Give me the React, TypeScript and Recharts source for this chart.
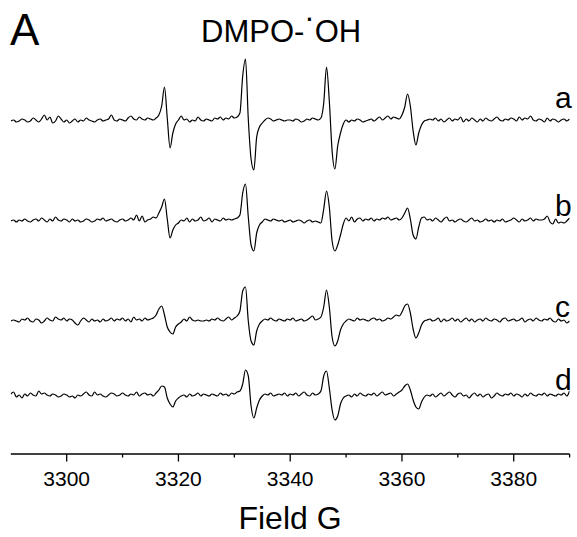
import React from "react";
import { Line, LineChart, XAxis, YAxis } from "recharts";

// sweep: 3290 G to 3390 G, one reading per 0.5 G
const fieldStart = 3290;
const fieldStep = 0.5;

// EPR signal of each sample (up = positive)
const traceA = [
  0, 1, -1, 0, 2, 1, -1, 0, 3, 1,
  -1, 2, 6, 1, 4, -2, 0, 5, 2, -1,
  1, -2, 0, 2, -1, 1, 0, 3, 1, 0,
  -1, 1, 2, 0, 1, 2, 6, 1, 0, 2,
  1, 0, 3, 5, 2, 1, 4, 2, 1, 3,
  2, 1, 3, 6, 15, 34, 3, -27, -12, -3,
  1, 5, 1, 2, -1, 1, 0, 4, 1, 0,
  2, 1, 0, 3, 2, 4, 1, 3, 2, 5,
  3, 4, 8, 45, 62, 2, -38, -49, -16, -6,
  -2, 1, 3, 2, 0, 1, 2, 1, 0, 1,
  1, 0, 2, 1, -1, 0, 2, 1, 3, 2,
  1, 3, 18, 54, 20, -30, -48, -25, -12, -3,
  1, -1, 1, 0, 2, 1, -1, 0, 1, 2,
  0, 2, 4, 1, 3, 5, 2, 4, 3, 2,
  6, 14, 27, 15, -10, -24, -12, -4, 0, 1,
  2, 1, 3, 0, 2, -1, 1, 3, 0, 2,
  1, 4, -1, 2, 0, 3, 1, -1, 2, 0,
  3, 1, 0, 2, 4, 1, 0, 2, 1, 3,
  2, 0, 4, 1, 3, 2, 5, 1, 0, 2,
  1, -1, 3, 0, 2, 1, -1, 1, 2, 0,
  2,
];

const traceB = [
  0, 1, -1, 1, 0, 2, 0, -1, 1, 2,
  0, 3, 1, -1, 2, 0, 4, 1, 0, 2,
  1, -1, 2, 0, 1, -1, 0, 2, 1, -1,
  0, 2, 1, 3, 0, 1, 2, 0, -1, 1,
  2, 0, 1, 3, 1, 6, 0, 5, -1, 1,
  2, 4, 3, 8, 14, 22, 2, -17, -9, -4,
  -2, 1, 0, 3, -1, 2, 0, 1, 4, 0,
  1, 3, -1, 2, 1, 0, 3, 1, 2, 1,
  2, 3, 6, 28, 37, 4, -24, -30, -12, -4,
  -1, 2, 1, 0, 2, 1, 0, 1, -1, 0,
  1, -1, 0, 1, 0, -2, 0, 1, -1, 0,
  -1, -2, 12, 30, 14, -20, -30, -24, -14, -3,
  3, 0, 4, -1, 2, 3, 0, 2, 1, 3,
  0, 2, 1, 3, 2, 4, 1, 2, 3, 1,
  3, 8, 13, 2, -14, -18, -6, 3, 4, 1,
  2, 0, 3, 1, -1, 2, 4, 0, 1, -1,
  1, 2, 0, -1, 1, 3, 0, 1, -1, 0,
  2, 0, 1, -1, 1, 0, 2, -1, 0, 1,
  3, 1, -1, 2, 0, 1, 3, 0, 2, 1,
  1, 2, 5, -1, -3, 2, -2, -1, -2, 0,
  3,
];

const traceC = [
  0, 1, 0, -1, 2, 1, 3, 0, -1, 2,
  1, -2, 0, 3, 1, 0, 4, 2, 1, 3,
  0, 2, 1, -2, -4, 0, 3, 1, -1, 2,
  0, 1, -1, 2, 0, 1, 3, 0, 2, 1,
  3, 0, 2, -1, 4, 1, 2, 0, 3, 1,
  2, 3, 6, 12, 15, 6, -6, -11, -13, -6,
  -3, -1, 2, 0, 4, 1, 0, 1, 0, 0,
  1, 0, 2, 1, 3, 1, 0, 2, 4, 1,
  3, 5, 10, 30, 34, 0, -20, -24, -10, -3,
  0, 2, 1, 3, 1, 0, 2, 1, 0, 2,
  1, 3, 0, 1, 2, 0, 1, 3, 5, 1,
  2, 4, 14, 31, 14, -16, -25, -20, -9, -3,
  0, 2, 1, 0, 3, 1, 2, 1, 0, 2,
  3, 1, 2, 0, 1, 3, 2, 4, 6, 5,
  9, 15, 17, 8, -8, -17, -12, -4, 0, 1,
  2, 0, 1, 3, -1, 2, 0, 1, 3, 0,
  2, -1, 1, 3, 0, 2, -1, 1, 2, 0,
  3, 1, 0, 2, 1, -1, 2, 3, 0, 1,
  2, 0, 1, 3, -1, 1, 2, 0, 3, 1,
  0, 2, 1, 3, 0, -1, 2, 0, 1, -2,
  0,
];

const traceD = [
  2, 4, -1, 1, -2, 2, 0, 3, 1, 0,
  5, 2, 3, 1, 0, 2, 1, -1, 0, 2,
  1, -1, 0, -2, 1, 0, 2, 4, 1, 0,
  4, 1, 2, 0, -1, 1, 3, 2, 0, 1,
  3, 1, 0, 2, 1, 4, 0, 2, 3, 1,
  2, 0, 3, 6, 10, 9, -2, -8, -11, -5,
  -2, 0, 1, -1, 2, 0, 1, 3, 0, 2,
  1, 0, 2, 1, 0, 3, 1, 2, 0, 3,
  2, 4, 5, 12, 26, 20, -10, -22, -12, -4,
  0, 2, 1, 3, 0, 1, 2, 1, 3, 0,
  2, 1, 3, 0, 2, 4, 1, 0, 3, 1,
  2, 5, 20, 25, 8, -14, -24, -20, -8, -2,
  0, 1, -1, 2, 0, 3, 1, 0, 2, 1,
  3, 0, 2, 4, 1, 2, 3, 0, 2, 4,
  6, 10, 12, 6, -4, -11, -13, -6, -1, 1,
  0, 2, -1, 1, 3, 0, 2, 4, 1, -1,
  2, 3, 0, 1, -2, 1, 3, 0, 2, -1,
  1, 2, -2, 0, 3, 1, 0, 2, 1, 3,
  0, 2, 1, -1, 2, 0, 3, 1, 0, 2,
  1, 3, 0, 2, 1, 0, 2, 1, 3, 0,
  5,
];

const traceLabels = ["a", "b", "c", "d"];
// stacking offsets so the spectra sit one under the other
const baselines = [333, 233, 133, 58];

const majorTicks = [3300, 3320, 3340, 3360, 3380];
const allTicks = [3300, 3310, 3320, 3330, 3340, 3350, 3360, 3370, 3380, 3390];

const data = traceA.map((_, i) => ({
  field: fieldStart + i * fieldStep,
  a: traceA[i] + baselines[0],
  b: traceB[i] + baselines[1],
  c: traceC[i] + baselines[2],
  d: traceD[i] + baselines[3],
}));

const font = "'Liberation Sans', Arial, Helvetica, sans-serif";

const FieldTick = (props: any) => {
  const { x, y, payload } = props;
  const major = majorTicks.includes(payload.value);
  return (
    <g>
      <line
        x1={x}
        x2={x}
        y1={y}
        y2={y + (major ? 7.5 : 3.5)}
        stroke="#000"
        strokeWidth={1.3}
      />
      {major && (
        <text
          x={x}
          y={y + 32}
          textAnchor="middle"
          fontSize={21}
          fontFamily={font}
          fill="#000"
        >
          {payload.value}
        </text>
      )}
    </g>
  );
};

const labelY = [108, 216, 317, 390];

export default function App() {
  return (
    <div style={{ position: "absolute", left: 0, top: 0, width: 577, height: 537 }}>
      <LineChart
        width={577}
        height={537}
        data={data}
        margin={{ top: 0, right: 7.4, bottom: 0, left: 10.8 }}
      >
        <XAxis
          dataKey="field"
          type="number"
          domain={[3290, 3390]}
          ticks={allTicks}
          interval={0}
          tick={FieldTick}
          tickLine={false}
          tickSize={0}
          tickMargin={0}
          axisLine={{ stroke: "#000", strokeWidth: 1.3 }}
          height={83}
          allowDataOverflow
        />
        <YAxis hide type="number" domain={[0, 454]} width={0} allowDataOverflow />
        {traceLabels.map((k) => (
          <Line
            key={k}
            dataKey={k}
            type="monotone"
            dot={false}
            stroke="#000"
            strokeWidth={1.2}
            isAnimationActive={false}
          />
        ))}
      </LineChart>
      <svg
        width={577}
        height={537}
        style={{ position: "absolute", left: 0, top: 0, pointerEvents: "none" }}
      >
        <text x={10} y={45} fontSize={44} fontFamily={font} fill="#000">
          A
        </text>
        <text x={201} y={42} fontSize={31} fontFamily={font} fill="#000">
          DMPO-
          <tspan dy={-14}>·</tspan>
          <tspan dy={14}>OH</tspan>
        </text>
        {traceLabels.map((t, i) => (
          <text key={t} x={555} y={labelY[i]} fontSize={30} fontFamily={font} fill="#000">
            {t}
          </text>
        ))}
        <text x={290} y={529} textAnchor="middle" fontSize={32} fontFamily={font} fill="#000">
          Field G
        </text>
      </svg>
    </div>
  );
}
